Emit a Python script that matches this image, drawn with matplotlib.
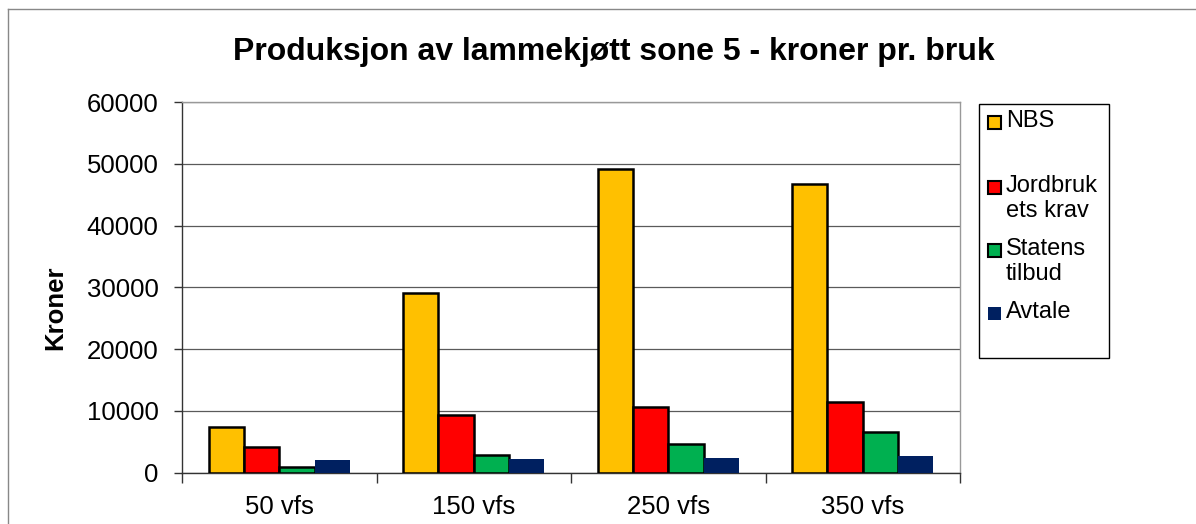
import matplotlib
matplotlib.use("Agg")
import matplotlib.pyplot as plt
from matplotlib.patches import Rectangle
from matplotlib.lines import Line2D
import numpy as np

plt.rcParams['font.family'] = ['Liberation Sans', 'DejaVu Sans']

categories = ["50 vfs", "150 vfs", "250 vfs", "350 vfs"]
series_names = ["NBS", "Jordbruk\nets krav", "Statens\ntilbud", "Avtale"]
nbs = [7400, 29100, 49200, 46700]
jordbruk = [4200, 9400, 10650, 11400]
statens = [950, 2800, 4700, 6600]
avtale = [2100, 2200, 2400, 2600]
values = [nbs, jordbruk, statens, avtale]
colors = ["#FFC000", "#FF0000", "#00B050", "#002060"]
edges = ["black", "black", "black", "none"]
yticks = [0, 10000, 20000, 30000, 40000, 50000, 60000]

W, H = 1196, 524
fig = plt.figure(figsize=(W / 100, H / 100), dpi=100)
ax = fig.add_axes([182 / W, (H - 472.5) / H, 778 / W, 370.2 / H])

n = len(series_names)
w = 1 / 5.5
x = np.arange(len(categories))
for i, (vals, c, ec) in enumerate(zip(values, colors, edges)):
    offs = (i - (n - 1) / 2) * w
    ax.bar(x + offs, vals, width=w, color=c, edgecolor=ec,
           linewidth=1.8 if ec != "none" else 0, zorder=3)

ax.set_xlim(-0.5, len(categories) - 0.5)
ax.set_ylim(0, 60000)
ax.set_yticks(yticks)
ax.set_yticklabels([str(v) for v in yticks], fontsize=18.5)
ax.yaxis.grid(True, color="#5a5a5a", linewidth=0.9, zorder=0)
ax.tick_params(axis='y', direction='out', length=6, width=1, color="#333333", pad=11)

ax.set_xticks(np.arange(len(categories) + 1) - 0.5)
ax.set_xticklabels([])
ax.set_xticks(x, minor=True)
ax.set_xticklabels(categories, minor=True, fontsize=18.5)
ax.tick_params(axis='x', which='major', direction='out', length=7, width=1, color="#333333")
ax.tick_params(axis='x', which='minor', length=0, pad=16)

for s in ['left', 'bottom']:
    ax.spines[s].set_color("#333333")
    ax.spines[s].set_linewidth(1)
for s in ['top', 'right']:
    ax.spines[s].set_color("#999999")
    ax.spines[s].set_linewidth(1)

# title and y label
fig.text(614 / W, 1 - 52 / H, "Produksjon av lammekjøtt sone 5 - kroner pr. bruk",
         ha='center', va='center', fontsize=23, fontweight='bold')
fig.text(55 / W, 1 - 308 / H, "Kroner", rotation=90, ha='center', va='center',
         fontsize=18.5, fontweight='bold')

# legend box
lx0, ly0, lx1, ly1 = 979, 104, 1109, 358
fig.add_artist(Rectangle((lx0 / W, 1 - ly1 / H), (lx1 - lx0) / W, (ly1 - ly0) / H,
                         transform=fig.transFigure, facecolor='white',
                         edgecolor='black', linewidth=1))
entry_y = [122, 187, 250, 313]
sq = 13
for name, c, ec, yy in zip(series_names, colors, edges, entry_y):
    fig.add_artist(Rectangle((988 / W, 1 - (yy + sq / 2) / H), sq / W, sq / H,
                             transform=fig.transFigure, facecolor=c,
                             edgecolor=ec if ec != "none" else c,
                             linewidth=1.5 if ec != "none" else 0))
    fig.text(1006 / W, 1 - (yy - 12) / H, name, ha='left', va='top',
             fontsize=17, linespacing=1.15)

# outer chart border
fig.add_artist(Line2D([8 / W, 1], [1 - 9 / H, 1 - 9 / H], transform=fig.transFigure,
                      color="#888888", linewidth=1))
fig.add_artist(Line2D([8 / W, 8 / W], [0, 1 - 9 / H], transform=fig.transFigure,
                      color="#888888", linewidth=1))

fig.savefig("out.png", dpi=100)
